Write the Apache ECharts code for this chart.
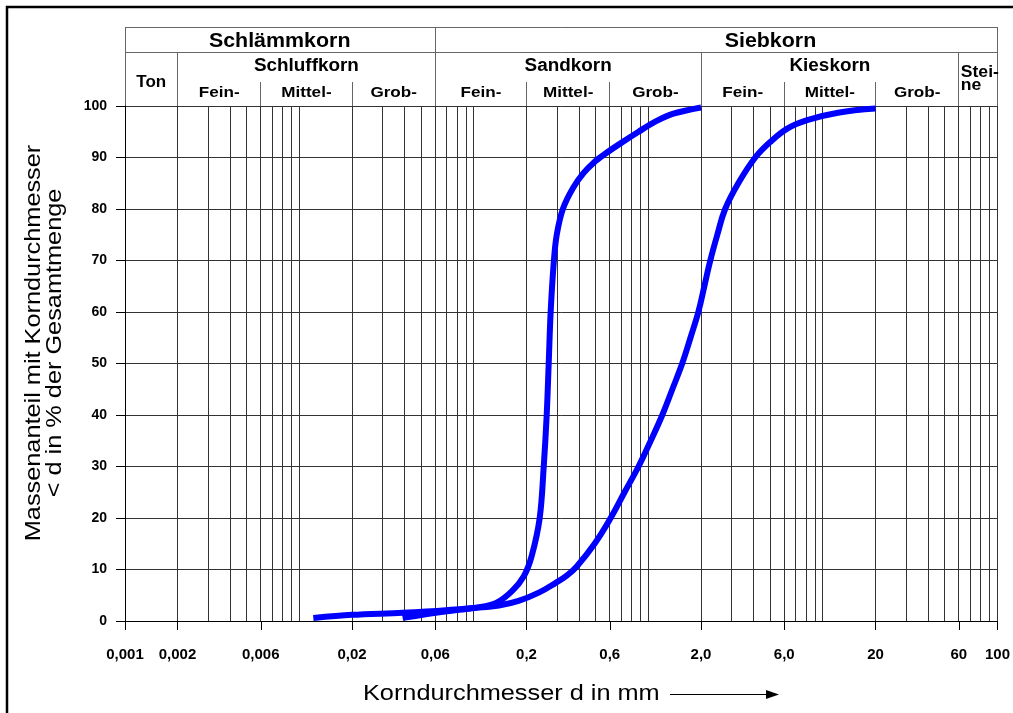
<!DOCTYPE html>
<html><head><meta charset="utf-8">
<script src="https://cdn.jsdelivr.net/npm/echarts@6/dist/echarts.min.js"></script>
<style>html,body{margin:0;padding:0;background:#fff}#c{width:1013px;height:713px}</style>
</head><body><div id="c"></div>
<script>
// ---- data ----
const xTickValues = [0.001, 0.002, 0.006, 0.02, 0.06, 0.2, 0.6, 2, 6, 20, 60, 100];
const xTickLabels = ['0,001', '0,002', '0,006', '0,02', '0,06', '0,2', '0,6', '2,0', '6,0', '20', '60', '100'];
const gridValues = [
  0.002, 0.003, 0.004, 0.005, 0.006, 0.007, 0.008, 0.009, 0.01,
  0.02, 0.03, 0.04, 0.05, 0.06, 0.07, 0.08, 0.09, 0.1,
  0.2, 0.3, 0.4, 0.5, 0.6, 0.7, 0.8, 0.9, 1,
  2, 3, 4, 5, 6, 7, 8, 9, 10,
  20, 30, 40, 50, 60, 70, 80, 90, 100
];
// sample 1 (sand) : [diameter mm, % passing]
const sampleSand = [
  [0.012, 0.6], [0.02, 1.2], [0.039, 1.6], [0.069, 2.1], [0.107, 2.7], [0.134, 3.5],
  [0.165, 5.8], [0.193, 8.7], [0.214, 12.6], [0.238, 20], [0.251, 30], [0.261, 40],
  [0.268, 50], [0.275, 60], [0.287, 70], [0.298, 75], [0.323, 80], [0.368, 84],
  [0.425, 87], [0.485, 89], [0.553, 90.5], [0.674, 92.5], [0.877, 95], [1.1, 97],
  [1.39, 98.5], [2.0, 99.7]
];
// sample 2 (gravel)
const sampleGravel = [
  [0.039, 0.6], [0.07, 1.9], [0.107, 2.6], [0.139, 3.0], [0.18, 3.9], [0.235, 5.5],
  [0.294, 7.4], [0.34, 8.8], [0.388, 10.6], [0.491, 15], [0.607, 20], [0.729, 25], [0.877, 30],
  [1.03, 35], [1.2, 40], [1.37, 45], [1.56, 50], [1.74, 55], [1.93, 60], [2.09, 65],
  [2.26, 70], [2.48, 75], [2.75, 80], [3.27, 85], [4.09, 90], [4.98, 93],
  [6.31, 95.7], [8.2, 97.3], [12.2, 98.7], [20, 99.5]
];
// header classification
const groupNames = ['Schlämmkorn', 'Siebkorn'];
const groupLabelAt = [0.0077, 5];
const classNames = ['Schluffkorn', 'Sandkorn', 'Kieskorn'];
const classBounds = [[0.002, 0.06], [0.06, 2], [2, 60]];
const subNames = ['Fein-', 'Mittel-', 'Grob-'];
const subBounds = [[0.002, 0.006, 0.02, 0.06], [0.06, 0.2, 0.6, 2], [2, 6, 20, 60]];
const fullDividers = [0.001, 0.06, 100];
const rowDividers = [0.002, 2, 60];
const subDividers = [0.006, 0.02, 0.2, 0.6, 6, 20];

const FONT = 'Liberation Sans, Arial, sans-serif';
const BLUE = '#0000ff';
const crisp = x => Math.round(x - 0.5) + 0.5;

const chart = echarts.init(document.getElementById('c'));
const option = {
  animation: false,
  backgroundColor: '#fff',
  grid: { left: 125, right: 13, top: 106, bottom: 92 },
  xAxis: {
    type: 'log', logBase: 10, min: 0.001, max: 100,
    axisLine: { show: true, lineStyle: { color: '#000', width: 1 } },
    axisTick: { show: true, length: 9, customValues: xTickValues, lineStyle: { color: '#000' } },
    axisLabel: {
      customValues: xTickValues, margin: 26, color: '#000',
      fontFamily: FONT, fontSize: 15, fontWeight: 'bold',
      formatter: function (v) {
        const i = xTickValues.findIndex(t => Math.abs(Math.log10(t) - Math.log10(v)) < 1e-6);
        return i >= 0 ? xTickLabels[i] : '';
      }
    },
    splitLine: { show: false }, minorTick: { show: false }
  },
  yAxis: {
    type: 'value', min: 0, max: 100, interval: 10,
    axisLine: { show: true, lineStyle: { color: '#000', width: 1 } },
    axisTick: { show: true, length: 9, lineStyle: { color: '#000' } },
    axisLabel: { margin: 18, color: '#000', fontFamily: FONT, fontSize: 14, fontWeight: 'bold' },
    splitLine: { show: true, lineStyle: { color: '#333', width: 1 } }
  },
  series: [
    {
      type: 'custom', z: 1, silent: true,
      data: gridValues.map(v => [v, 0]),
      encode: { x: 0, y: 1 },
      renderItem: function (params, api) {
        const v = api.value(0);
        const p0 = api.coord([v, 0]);
        const p1 = api.coord([v, 100]);
        const x = crisp(p0[0]);
        return { type: 'line', shape: { x1: x, y1: p0[1], x2: x, y2: p1[1] }, style: { stroke: '#333', lineWidth: 1 } };
      }
    },
    {
      name: 'Probe 1', type: 'line', data: sampleSand, z: 5, symbol: 'none', smooth: 0.35,
      lineStyle: { color: BLUE, width: 6, cap: 'butt' }
    },
    {
      name: 'Probe 2', type: 'line', data: sampleGravel, z: 5, symbol: 'none', smooth: 0.4,
      lineStyle: { color: BLUE, width: 6, cap: 'butt' }
    }
  ]
};
chart.setOption(option);

// ---- header table and titles (positions through the axis scale) ----
const px = v => chart.convertToPixel({ xAxisIndex: 0 }, v);
const yTop = chart.convertToPixel({ yAxisIndex: 0 }, 100);
const Y0 = 27, Y1 = 52, Y2 = 82;
const HL = { stroke: '#666', lineWidth: 1 };
const g = [];
const line = (x1, y1, x2, y2, st) => g.push({ type: 'line', silent: true, shape: { x1, y1, x2, y2 }, style: st || HL });
const vline = (v, y1, y2) => { const x = crisp(px(v)); line(x, y1, x, y2); };
const text = (t, x, y, size, opts) => g.push(Object.assign({
  type: 'text', x, y, silent: true,
  style: { text: t, fill: '#000', font: 'bold ' + size + 'px ' + FONT, align: 'center', verticalAlign: 'middle' }
}, opts || {}));

line(px(0.001), Y0 + 0.5, px(100), Y0 + 0.5);
line(px(0.001), Y1 + 0.5, px(100), Y1 + 0.5);
fullDividers.forEach(v => vline(v, Y0, yTop));
rowDividers.forEach(v => vline(v, Y1, yTop));
subDividers.forEach(v => vline(v, Y2, yTop));

groupNames.forEach((n, i) => text(n, px(groupLabelAt[i]), 41, 20, { scaleX: 1.07 }));
text('Ton', (px(0.001) + px(0.002)) / 2, 82, 17);
classNames.forEach((n, i) => text(n, (px(classBounds[i][0]) + px(classBounds[i][1])) / 2, 66, 18, { scaleX: 1.05 }));
subBounds.forEach(b => {
  subNames.forEach((n, j) => text(n, (px(b[j]) + px(b[j + 1])) / 2, 93, 15, { scaleX: 1.14 }));
});
g.push({ type: 'text', x: px(60) + 2, y: 73, silent: true, scaleX: 1.1,
  style: { text: 'Stei-', fill: '#000', font: 'bold 16px ' + FONT, align: 'left', verticalAlign: 'middle' } });
g.push({ type: 'text', x: px(60) + 2, y: 86, silent: true, scaleX: 1.1,
  style: { text: 'ne', fill: '#000', font: 'bold 16px ' + FONT, align: 'left', verticalAlign: 'middle' } });

// y axis title (two lines, rotated)
g.push({ type: 'text', x: 44, y: 343, rotation: Math.PI / 2, scaleX: 1.15, silent: true,
  style: { text: 'Massenanteil mit Korndurchmesser\n< d in % der Gesamtmenge', fill: '#000',
    font: '22px ' + FONT, align: 'center', verticalAlign: 'middle', lineHeight: 21 } });
// x axis title with arrow
g.push({ type: 'text', x: 363, y: 694, silent: true, scaleX: 1.15,
  style: { text: 'Korndurchmesser d in mm', fill: '#000', font: '22px ' + FONT, align: 'left', verticalAlign: 'middle' } });
line(670, 694.5, 770, 694.5, { stroke: '#000', lineWidth: 1.2 });
g.push({ type: 'polygon', silent: true, shape: { points: [[766, 690], [779, 694.5], [766, 699]] }, style: { fill: '#000' } });
// outer frame
g.push({ type: 'rect', silent: true, shape: { x: 7, y: 7, width: 1100, height: 1100 }, style: { fill: null, stroke: '#000', lineWidth: 2.5 } });

chart.setOption({ graphic: g });
</script>
</body></html>
